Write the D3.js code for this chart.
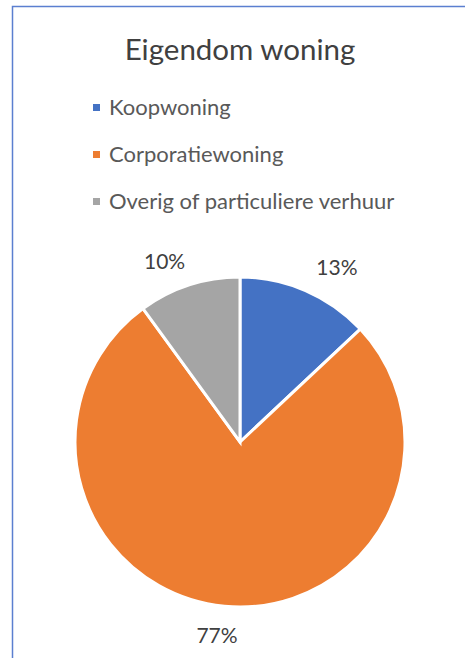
<!DOCTYPE html>
<html>
<head>
<meta charset="utf-8">
<script src="https://cdn.jsdelivr.net/npm/d3@7"></script>
<style>
  body { margin: 0; background: #fff; }
  svg { display: block; }
</style>
</head>
<body>
<div id="chart"></div>
<script>
const categories = ['Koopwoning', 'Corporatiewoning', 'Overig of particuliere verhuur']
const values = [13, 77, 10]
const colors = ['#4472C4', '#ED7D31', '#A5A5A5']
const title = 'Eigendom woning'

const width = 465
const height = 658

const svg = d3.select('#chart')
    .append('svg')
    .attr('width', width)
    .attr('height', height)

// frame of the chart area (only top and left visible in the crop)
svg.append('path')
    .attr('d', `M12.5,${height} V6.5 H${width}`)
    .attr('fill', 'none')
    .attr('stroke', '#5B7FD0')
    .attr('stroke-width', 1.5)

svg.append('text')
    .attr('x', 240)
    .attr('y', 60)
    .attr('text-anchor', 'middle')
    .attr('font-family', 'Lato, "Open Sans", sans-serif')
    .attr('font-size', 29.5)
    .attr('fill', '#404040')
    .text(title)

// legend
const legend = svg.append('g')
    .attr('transform', 'translate(93, 108)')

const rows = legend.selectAll('g')
    .data(categories)
    .join('g')
    .attr('transform', (d, i) => `translate(0, ${i * 47})`)

rows.append('rect')
    .attr('x', 0)
    .attr('y', -4)
    .attr('width', 7)
    .attr('height', 7)
    .attr('fill', (d, i) => colors[i])

rows.append('text')
    .attr('x', 16)
    .attr('y', 7)
    .attr('font-family', 'Lato, "Open Sans", sans-serif')
    .attr('font-size', 22)
    .attr('fill', '#595959')
    .text(d => d)

// pie
const cx = 240, cy = 442, r = 165

const pie = d3.pie().sort(null)
const arcs = pie(values)

const arc = d3.arc().innerRadius(0).outerRadius(r)
const labelArc = d3.arc().innerRadius(200).outerRadius(200)

const ctr = svg.append('g')
    .attr('transform', `translate(${cx}, ${cy})`)

ctr.selectAll('path')
    .data(arcs)
    .join('path')
    .attr('d', arc)
    .attr('fill', (d, i) => colors[i])
    .attr('stroke', '#fff')
    .attr('stroke-width', 3)

// labels sit on a slightly flattened ring outside the pie
ctr.selectAll('text')
    .data(arcs)
    .join('text')
    .attr('transform', d => {
        const [x, y] = labelArc.centroid(d)
        return `translate(${x * 1.22}, ${y * 0.96 + 2})`
    })
    .attr('text-anchor', 'middle')
    .attr('dy', '0.35em')
    .attr('font-family', 'Lato, "Open Sans", sans-serif')
    .attr('font-size', 21)
    .attr('fill', '#404040')
    .text(d => d.data + '%')
</script>
</body>
</html>
